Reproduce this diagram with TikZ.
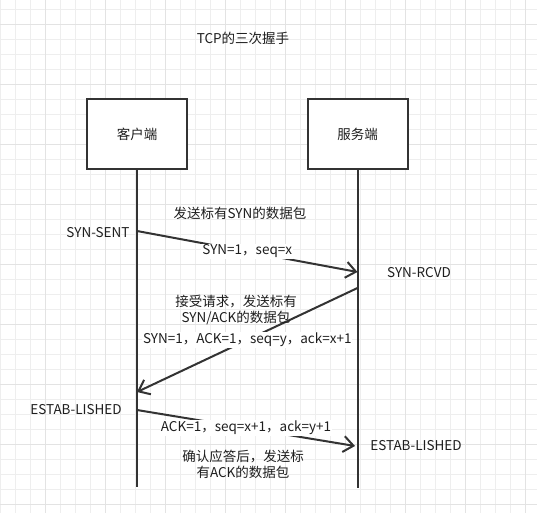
\documentclass[tikz,border=0pt]{standalone}
\usepackage{fontspec}
\setmainfont{Noto Sans CJK SC}
\usetikzlibrary{arrows.meta}
\definecolor{lncol}{HTML}{333333}
\definecolor{txtcol}{HTML}{1E1E1E}
\definecolor{gridminor}{HTML}{EEEEEE}
\definecolor{gridmajor}{HTML}{E3E3E3}

\begin{document}
\begin{tikzpicture}[
  x = 1pt, y = -1pt,
  every node/.style = {font = \fontsize{13.5}{16}\selectfont, text = txtcol},
  minor/.style = {draw = gridminor, line width = 0.8pt},
  major/.style = {draw = gridmajor, line width = 0.8pt},
  box/.style = {draw = lncol, line width = 2pt, fill = white,
                minimum width = 100pt, minimum height = 70pt},
  life/.style = {draw = lncol, line width = 2pt},
  msg/.style = {draw = lncol, line width = 2pt,
                -{Straight Barb[length = 10pt, width = 16pt]}},
  lbl/.style = {fill = white, inner sep = 1pt},
  ]
  \useasboundingbox (0,0) rectangle (537,513);
  \fill[white] (0,0) rectangle (537,513);
  % background grid
  \foreach \i in {0,...,35}
    \draw[minor] ({0.7+15*\i}, 0) -- ({0.7+15*\i}, 513);
  \foreach \i in {0,...,33}
    \draw[minor] (0, {9.3+15*\i}) -- (537, {9.3+15*\i});
  \foreach \i in {0,...,8} {
    \draw[major] ({45+60*\i}, 0) -- ({45+60*\i}, 513);
    \draw[major] (0, {24+60*\i}) -- (537, {24+60*\i});
  }

  \node (title) at (243,38) {TCP的三次握手};

  \node[box] (client) at (137,134) {客户端};
  \node[box] (server) at (357.5,134) {服务端};
  \coordinate (clientend) at (137,487);
  \coordinate (serverend) at (357.5,488);
  \draw[life] (client.south) -- (clientend);
  \draw[life] (server.south) -- (serverend);

  \coordinate (c1) at (137,231);
  \coordinate (s1) at (357.5,272);
  \coordinate (s2) at (357.5,288);
  \coordinate (c2) at (137,392);
  \coordinate (c3) at (137,410);
  \coordinate (s3) at (355,446);

  \draw[msg] (c1) -- node[lbl] (syn) {SYN=1，seq=x} (s1);
  \draw[msg] (s2) -- node[lbl] (synack) {SYN=1，ACK=1，seq=y，ack=x+1} (c2);
  \draw[msg] (c3) -- node[lbl] (ack) {ACK=1，seq=x+1，ack=y+1} (s3);

  \node (synnote) at (240,213) {发送标有SYN的数据包};
  \node[align = center] (synacknote) at (236,310) {接受请求，发送标有\\SYN/ACK的数据包};
  \node[align = center] (acknote) at (243,464) {确认应答后，发送标\\有ACK的数据包};

  \node (synsent) at (98,233) {SYN-SENT};
  \node (synrcvd) at (419,273) {SYN-RCVD};
  \node (estabc) at (76,410) {ESTAB-LISHED};
  \node (estabs) at (416,446) {ESTAB-LISHED};
\end{tikzpicture}
\end{document}
